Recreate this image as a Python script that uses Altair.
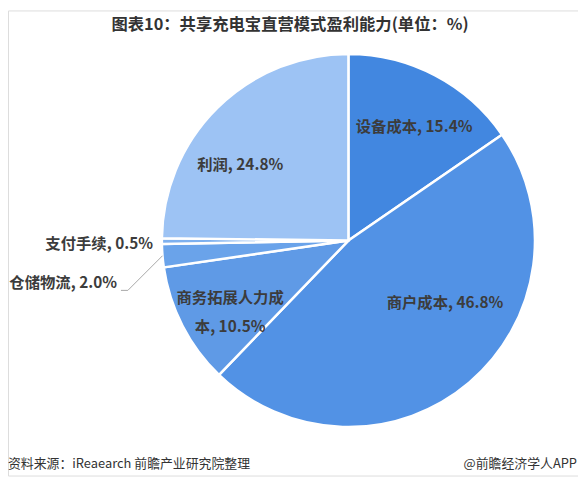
import math
import altair as alt
import pandas as pd

# ---- data ----
categories = ["设备成本", "商户成本", "商务拓展人力成本", "仓储物流", "支付手续", "利润"]
values = [15.4, 46.8, 10.5, 2.0, 0.5, 24.8]
labels = ["设备成本, 15.4%", "商户成本, 46.8%", "商务拓展人力成\n本, 10.5%",
          "仓储物流, 2.0%", "支付手续, 0.5%", "利润, 24.8%"]
colors = ["#4287e0", "#5292e5", "#5f9ae6", "#6aa3ea", "#7eb0ee", "#9dc3f4"]

title_text = "图表10：共享充电宝直营模式盈利能力(单位：%)"
source_text = "资料来源：iReaearch 前瞻产业研究院整理"
brand_text = "@前瞻经济学人APP"

FONT = "Noto Sans CJK SC"
W, H = 576, 470
CX, CY, R = 344, 232.5, 188.5

starts = []
acc = 0.0
for v in values:
    starts.append(acc)
    acc += v
df = pd.DataFrame({
    "idx": list(range(len(categories))),
    "cat": categories,
    "value": values,
    "label": labels,
    "start": starts,
    "end": [s + v for s, v in zip(starts, values)],
})
df["mid"] = df["start"] + df["value"] / 2

theta_scale = alt.Scale(domain=[0, 100], range=[0, 2 * math.pi])

pie = alt.Chart(df).mark_arc(outerRadius=R, stroke="white", strokeWidth=2.5).encode(
    theta=alt.Theta("start:Q", scale=theta_scale),
    theta2="end:Q",
    color=alt.Color("cat:N", scale=alt.Scale(domain=categories, range=colors), legend=None),
    x=alt.value(CX), y=alt.value(CY),
)

# label settings: category -> (radius, dx, dy, align)
label_cfg = {
    "设备成本": (132, 5, 2, "center"),
    "商户成本": (120, 20, -28, "center"),
    "商务拓展人力成本": (131, -3, -2, "center"),
    "利润": (130, -18, 16, "center"),
    "仓储物流": (R, -46, 27.5, "right"),
    "支付手续": (R, -9, 2.5, "right"),
}
text_layers = []
for cat, (rad, dx, dy, align) in label_cfg.items():
    t = alt.Chart(df).transform_filter(alt.datum.cat == cat).mark_text(
        radius=rad, dx=dx, dy=dy, align=align, baseline="middle",
        font=FONT, fontSize=15.5, fontWeight="bold", color="#3c3c3c",
        lineBreak="\n", lineHeight=30,
    ).encode(
        theta=alt.Theta("mid:Q", scale=theta_scale),
        text="label:N",
        x=alt.value(CX), y=alt.value(CY),
    )
    text_layers.append(t)

# leader line for 仓储物流, derived from its slice angle
a = df.loc[df.cat == "仓储物流", "mid"].iloc[0] / 100 * 2 * math.pi
p0 = (CX + R * math.sin(a), CY - R * math.cos(a))
p1 = (p0[0] - 35, p0[1] + 35)
p2 = (p1[0] - 7, p1[1])
leader = pd.DataFrame({"k": [0, 1, 2], "px": [p0[0], p1[0], p2[0]], "py": [p0[1], p1[1], p2[1]]})
line = alt.Chart(leader).mark_line(color="#a6a6a6", strokeWidth=1).encode(
    x=alt.X("px:Q", scale=None), y=alt.Y("py:Q", scale=None), order="k:Q"
)

title = alt.Chart(pd.DataFrame({"t": [title_text]})).mark_text(
    font=FONT, fontSize=16.5, fontWeight="bold", color="#333333", align="center", baseline="middle"
).encode(text="t:N", x=alt.value(285), y=alt.value(14.5))

src = alt.Chart(pd.DataFrame({"t": [source_text]})).mark_text(
    font=FONT, fontSize=13, color="#333333", align="left", baseline="middle"
).encode(text="t:N", x=alt.value(0), y=alt.value(458))

brand = alt.Chart(pd.DataFrame({"t": [brand_text]})).mark_text(
    font=FONT, fontSize=13, color="#333333", align="right", baseline="middle"
).encode(text="t:N", x=alt.value(575), y=alt.value(458))

chart = alt.layer(pie, line, *text_layers, title, src, brand).properties(
    width=W, height=H, autosize=alt.AutoSizeParams(type="none"), padding=0,
).configure_view(stroke=None).configure(background="white")

chart.save("out.html", embed_options={"renderer": "svg", "actions": False})
